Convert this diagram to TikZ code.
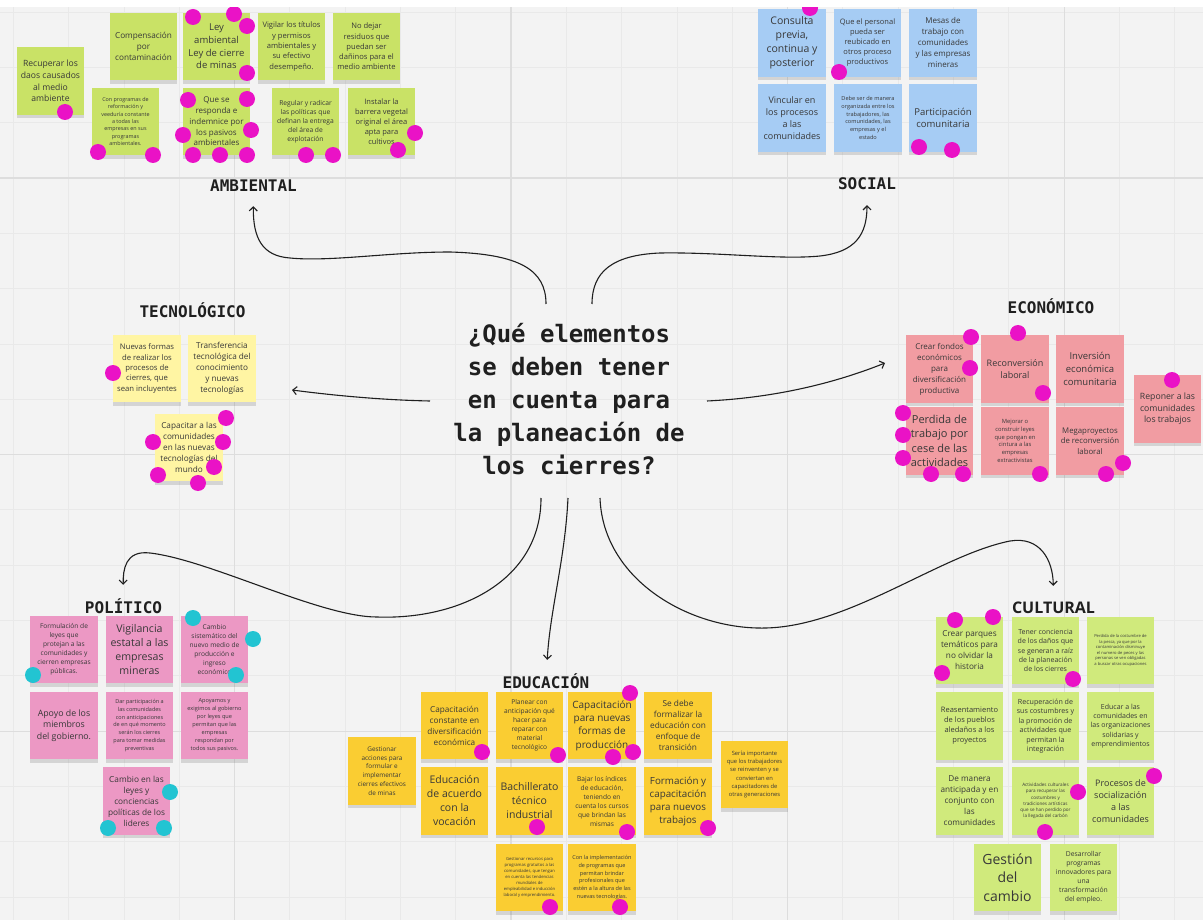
\documentclass[tikz,border=0pt]{standalone}
\usepackage{fontspec}
\setmainfont{Open Sans}
\setsansfont{Open Sans}
\newfontfamily\monofam{DejaVu Sans Mono}
\newfontfamily\osans{Open Sans}
\usetikzlibrary{arrows.meta,shadows}
\newcommand\fsz[2]{\fontsize{#1pt}{#2pt}\selectfont}
\definecolor{bgc}{RGB}{243,243,243}
\definecolor{gmin}{RGB}{233,233,233}
\definecolor{gmaj}{RGB}{221,221,221}
\definecolor{cAmb}{RGB}{201,226,102}
\definecolor{cCul}{RGB}{208,234,124}
\definecolor{cSoc}{RGB}{166,204,244}
\definecolor{cTec}{RGB}{255,245,163}
\definecolor{cEco}{RGB}{241,156,162}
\definecolor{cPol}{RGB}{236,152,196}
\definecolor{cEdu}{RGB}{250,205,50}
\definecolor{pinM}{RGB}{234,18,198}
\definecolor{pinT}{RGB}{34,196,210}
\tikzset{
  note/.style={rectangle, minimum width=67.5pt, minimum height=67.5pt, inner sep=1pt,
    align=center, text=black!78,
    drop shadow={shadow xshift=0pt, shadow yshift=-3.5pt, opacity=0.18, fill=black!70}},
  lab/.style={anchor=base, inner sep=0pt, text height=12pt, text depth=0pt,
    font=\monofam\bfseries\fontsize{16pt}{16pt}\selectfont, text=black!88},
  link/.style={draw=black!88, line width=1.1pt,
    -{Straight Barb[length=4pt,width=8pt,line width=1.1pt]}},
  gminor/.style={draw=gmin, line width=0.8pt},
  gmajor/.style={draw=gmaj, line width=1.2pt}
}
\begin{document}
\begin{tikzpicture}[x=1pt,y=-1pt]
\useasboundingbox (0,0) rectangle (1203,920);
\fill[bgc] (0,0) rectangle (1203,920);
% grid
\foreach \k in {0,...,21} { \draw[gminor] ({13.3+55.3*\k},0) -- ({13.3+55.3*\k},920); }
\foreach \k in {0,...,16} { \draw[gminor] (0,{12.1+55.3*\k}) -- (1203,{12.1+55.3*\k}); }
\foreach \xx in {234.4,511,787.6,1064.2} { \draw[gmajor] (\xx,0) -- (\xx,920); }
\foreach \yy in {178,454.6,731.2} { \draw[gmajor] (0,\yy) -- (1203,\yy); }

% central question
\node[align=center, inner sep=2pt, font=\monofam\bfseries\fontsize{24pt}{32.8pt}\selectfont, text=black!88] (q) at (569,399)
  {¿Qué elementos\\se deben tener\\en cuenta para\\la planeación de\\los cierres?};

% labels
\node[lab] (amb) at (253.5,192) {AMBIENTAL};
\node[lab] (soc) at (867,190) {SOCIAL};
\node[lab] (tec) at (192.5,318) {TECNOLÓGICO};
\node[lab] (eco) at (1051,313) {ECONÓMICO};
\node[lab] (pol) at (123.5,613) {POLÍTICO};
\node[lab] (edu) at (546,688) {EDUCACIÓN};
\node[lab, font=\osans\bfseries\fontsize{16pt}{16pt}\selectfont] (cul) at (1053.5,613) {CULTURAL};

% connector ends
\coordinate (sAmb) at (546,304);
\coordinate (sSoc) at (592,304);
\coordinate (sTec) at (430,401);
\coordinate (sEco) at (707,401);
\coordinate (sPol) at (541,498);
\coordinate (sEdu) at (568,498);
\coordinate (sCul) at (600,498);
\coordinate (tTec) at (292,390);
\coordinate (tEco) at (885,363);

\draw[link, shorten >=14pt] (sAmb) .. controls (546,270) and (520,254) .. (450,252)
  .. controls (390,252) and (330,262) .. (290,258)
  .. controls (262,256) and (253,238) .. (amb);
\draw[link, shorten >=15pt] (sSoc) .. controls (592,272) and (612,255) .. (660,253)
  .. controls (720,252) and (780,260) .. (820,256)
  .. controls (855,252) and (867,235) .. (soc);
\draw[link] (sTec) .. controls (380,400) and (330,395) .. (tTec);
\draw[link] (sEco) .. controls (770,398) and (830,385) .. (tEco);
\draw[link, shorten >=16pt] (sPol) .. controls (541,580) and (460,620) .. (377,617)
  .. controls (320,617) and (210,560) .. (150,553)
  .. controls (125,550) and (123,570) .. (pol);
\draw[link, shorten >=16pt] (sEdu) .. controls (565,560) and (550,610) .. (edu);
\draw[link, shorten >=15pt] (sCul) .. controls (603,580) and (690,630) .. (766,628)
  .. controls (850,626) and (940,555) .. (1010,541)
  .. controls (1040,536) and (1053,560) .. (cul);

% AMBIENTAL notes
\node[note, fill=cAmb, font=\fsz{8.6}{11.7}] (a1) at (50.5,81) {Recuperar los\\daos causados\\al medio\\ambiente};
\node[note, fill=cAmb, font=\fsz{8.2}{11}] (a2) at (143.5,46.5) {Compensación\\por\\contaminación};
\node[note, fill=cAmb, font=\fsz{5.4}{7.3}] (a3) at (125.5,121.5) {Con programas de\\reformación y\\veeduría constante\\a todas las\\empresas en sus\\programas\\ambientales.};
\node[note, fill=cAmb, font=\fsz{9.5}{12.7}] (a4) at (216.5,46.5) {Ley\\ambiental\\Ley de cierre\\de minas};
\node[note, fill=cAmb, font=\fsz{7.6}{10.3}] (a5) at (291.5,46.5) {Vigilar los títulos\\y permisos\\ambientales y\\su efectivo\\desempeño.};
\node[note, fill=cAmb, font=\fsz{7.6}{10.3}] (a6) at (366.5,46.5) {No dejar\\residuos que\\puedan ser\\dañinos para el\\medio ambiente};
\node[note, fill=cAmb, font=\fsz{8}{10.7}] (a7) at (216.5,121.5) {Que se\\responda e\\indemnice por\\los pasivos\\ambientales};
\node[note, fill=cAmb, font=\fsz{6.7}{9}] (a8) at (305.5,121.5) {Regular y radicar\\las políticas que\\definan la entrega\\del área de\\explotación};
\node[note, fill=cAmb, font=\fsz{7.5}{10}] (a9) at (381.5,121.5) {Instalar la\\barrera vegetal\\original el área\\apta para\\cultivos};

% SOCIAL notes
\node[note, fill=cSoc, font=\fsz{10.5}{14}] (s1) at (792,43) {Consulta\\previa,\\continua y\\posterior};
\node[note, fill=cSoc, font=\fsz{7.5}{10}] (s2) at (867.5,43) {Que el personal\\pueda ser\\reubicado en\\otros proceso\\productivos};
\node[note, fill=cSoc, font=\fsz{8}{11}] (s3) at (943,43) {Mesas de\\trabajo con\\comunidades\\y las empresas\\mineras};
\node[note, fill=cSoc, font=\fsz{9}{12}] (s4) at (792,118) {Vincular en\\los procesos\\a las\\comunidades};
\node[note, fill=cSoc, font=\fsz{5.6}{7.7}] (s5) at (868,118) {Debe ser de manera\\organizada entre los\\trabajadores, las\\comunidades, las\\empresas y el\\estado};
\node[note, fill=cSoc, font=\fsz{9.5}{12.7}] (s6) at (943,118) {Participación\\comunitaria};

% TECNOLOGICO notes
\node[note, fill=cTec, font=\fsz{7.7}{10.3}] (t1) at (147,368.5) {Nuevas formas\\de realizar los\\procesos de\\cierres, que\\sean incluyentes};
\node[note, fill=cTec, font=\fsz{8.2}{11}] (t2) at (222,368.5) {Transferencia\\tecnológica del\\conocimiento\\y nuevas\\tecnologías};
\node[note, fill=cTec, font=\fsz{8.2}{11}] (t3) at (189,447.5) {Capacitar a las\\comunidades\\en las nuevas\\tecnologías del\\mundo};

% ECONOMICO notes
\node[note, fill=cEco, font=\fsz{8}{11}] (e1) at (939.5,369) {Crear fondos\\económicos\\para\\diversificación\\productiva};
\node[note, fill=cEco, font=\fsz{9}{12.7}] (e2) at (1015,369) {Reconversión\\laboral};
\node[note, fill=cEco, font=\fsz{9.5}{12.7}] (e3) at (1090,369) {Inversión\\económica\\comunitaria};
\node[note, fill=cEco, font=\fsz{8.7}{11.7}] (e4) at (1167.5,409) {Reponer a las\\comunidades\\los trabajos};
\node[note, fill=cEco, font=\fsz{11}{14.3}] (e5) at (939.5,441) {Perdida de\\trabajo por\\cese de las\\actividades};
\node[note, fill=cEco, font=\fsz{5.8}{7.7}] (e6) at (1015,441) {Mejorar o\\construir leyes\\que pongan en\\cintura a las\\empresas\\extractivistas};
\node[note, fill=cEco, font=\fsz{7.8}{10.7}] (e7) at (1090,441) {Megaproyectos\\de reconversión\\laboral};

% POLITICO notes
\node[note, fill=cPol, font=\fsz{6.6}{9}] (p1) at (64,649.5) {Formulación de\\leyes que\\protejan a las\\comunidades y\\cierren empresas\\públicas.};
\node[note, fill=cPol, font=\fsz{10.6}{14.3}] (p2) at (139.5,649.5) {Vigilancia\\estatal a las\\empresas\\mineras};
\node[note, fill=cPol, font=\fsz{6.6}{9}] (p3) at (214.5,649.5) {Cambio\\sistemático del\\nuevo medio de\\producción e\\ingreso\\económico};
\node[note, fill=cPol, font=\fsz{8.8}{11.7}] (p4) at (64,725.5) {Apoyo de los\\miembros\\del gobierno.};
\node[note, fill=cPol, font=\fsz{5.5}{7.8}] (p5) at (139.5,725.5) {Dar participación a\\las comunidades\\con anticipaciones\\de en qué momento\\serán los cierres\\para tomar medidas\\preventivas};
\node[note, fill=cPol, font=\fsz{5.6}{8}] (p6) at (214.5,725.5) {Apoyamos y\\exigimos al gobierno\\por leyes que\\permitan que las\\empresas\\respondan por\\todos sus pasivos.};
\node[note, fill=cPol, font=\fsz{8.3}{11}] (p7) at (136.5,801) {Cambio en las\\leyes y\\conciencias\\políticas de los\\lideres};

% EDUCACION notes
\node[note, fill=cEdu, font=\fsz{6.4}{8.7}] (d1) at (382,771) {Gestionar\\acciones para\\formular e\\implementar\\cierres efectivos\\de minas};
\node[note, fill=cEdu, font=\fsz{8.2}{11}] (d2) at (454.5,725.5) {Capacitación\\constante en\\diversificación\\económica};
\node[note, fill=cEdu, font=\fsz{6.6}{9}] (d3) at (529.5,725.5) {Planear con\\anticipación qué\\hacer para\\reparar con\\material\\tecnológico};
\node[note, fill=cEdu, font=\fsz{10}{13.3}] (d4) at (602,725.5) {Capacitación\\para nuevas\\formas de\\producción};
\node[note, fill=cEdu, font=\fsz{8.3}{11}] (d5) at (678,725.5) {Se debe\\formalizar la\\educación con\\enfoque de\\transición};
\node[note, fill=cEdu, font=\fsz{5.8}{8.2}] (d6) at (754.5,774.5) {Sería importante\\que los trabajadores\\se reinventen y se\\conviertan en\\capacitadores de\\otras generaciones};
\node[note, fill=cEdu, font=\fsz{10.5}{14}] (d7) at (454.5,801) {Educación\\de acuerdo\\con la\\vocación};
\node[note, fill=cEdu, font=\fsz{10.5}{14}] (d8) at (529.5,801) {Bachillerato\\técnico\\industrial};
\node[note, fill=cEdu, font=\fsz{6.6}{9}] (d9) at (602,801) {Bajar los índices\\de educación,\\teniendo en\\cuenta los cursos\\que brindan las\\mismas};
\node[note, fill=cEdu, font=\fsz{9.8}{13}] (d10) at (678,801) {Formación y\\capacitación\\para nuevos\\trabajos};
\node[note, fill=cEdu, font=\fsz{4.2}{6}] (d11) at (529.5,877.5) {Gestionar recursos para\\programas gratuitos a las\\comunidades, que tengan\\en cuenta las tendencias\\mundiales de\\empleabilidad e inducción\\laboral y emprendimiento.};
\node[note, fill=cEdu, font=\fsz{5.5}{7.7}] (d12) at (602,877.5) {Con la implementación\\de programas que\\permitan brindar\\profesionales que\\estén a la altura de las\\nuevas tecnologías.};

% CULTURAL notes
\node[note, fill=cCul, font=\fsz{8.2}{11}] (c1) at (969.5,650.5) {Crear parques\\temáticos para\\no olvidar la\\historia};
\node[note, fill=cCul, font=\fsz{7}{9.3}] (c2) at (1045.5,650.5) {Tener conciencia\\de los daños que\\se generan a raíz\\de la planeación\\de los cierres};
\node[note, fill=cCul, font=\fsz{4.1}{5.5}] (c3) at (1120.5,650.5) {Perdida de la costumbre de\\la pesca, ya que por la\\contaminación disminuye\\el numero de peces y las\\personas se ven obligadas\\a buscar otras ocupaciones};
\node[note, fill=cCul, font=\fsz{7.5}{10}] (c4) at (969.5,726) {Reasentamiento\\de los pueblos\\aledaños a los\\proyectos};
\node[note, fill=cCul, font=\fsz{7.1}{9.5}] (c5) at (1045.5,726) {Recuperación de\\sus costumbres y\\la promoción de\\actividades que\\permitan la\\integración};
\node[note, fill=cCul, font=\fsz{7}{9.3}] (c6) at (1120.5,726) {Educar a las\\comunidades en\\las organizaciones\\solidarias y\\emprendimientos};
\node[note, fill=cCul, font=\fsz{8.2}{11}] (c7) at (969.5,801) {De manera\\anticipada y en\\conjunto con\\las\\comunidades};
\node[note, fill=cCul, font=\fsz{4.6}{6.3}] (c8) at (1045.5,801) {Actividades culturales\\para recuperar las\\costumbres y\\tradiciones artísticas\\que se han perdido por\\la llegada del carbón};
\node[note, fill=cCul, font=\fsz{9}{12}] (c9) at (1120.5,801) {Procesos de\\socialización\\a las\\comunidades};
\node[note, fill=cCul, font=\fsz{14}{18.7}] (c10) at (1007.5,877.5) {Gestión\\del\\cambio};
\node[note, fill=cCul, font=\fsz{6.8}{9}] (c11) at (1083.5,877.5) {Desarrollar\\programas\\innovadores para\\una\\transformación\\del empleo.};

% voting dots
\foreach \px/\py in {65/112, 98/152, 153/155, 193/17, 234/14, 247/26, 247/73, 188/100, 247/99, 183/135, 251/130, 193/155, 220/155, 247/155, 306/155, 333/155, 415/133, 398/150,
  810/8, 839/72, 919/147, 952/150,
  113/373, 226/418, 153/442, 223/442, 214/467, 158/475, 198/483,
  971/337, 970/368, 1018/333, 1043/393, 1172/380, 903/413, 903/435, 903/458, 931/474, 963/474, 1040/474, 1123/463, 1106/474,
  482/752, 558/755, 537/827, 550/907, 630/693, 633/752, 613/757, 627/832, 708/828, 620/907,
  955/620, 993/617, 942/673, 1073/679, 1078/792, 1045/832, 1154/776}
  { \fill[pinM] (\px,\py) circle (8pt); }
\foreach \px/\py in {33/675, 193/618, 253/639, 236/675, 170/792, 108/828, 164/828}
  { \fill[pinT] (\px,\py) circle (8pt); }

\fill[white] (0,0) rectangle (1203,7.5);
\end{tikzpicture}
\end{document}
